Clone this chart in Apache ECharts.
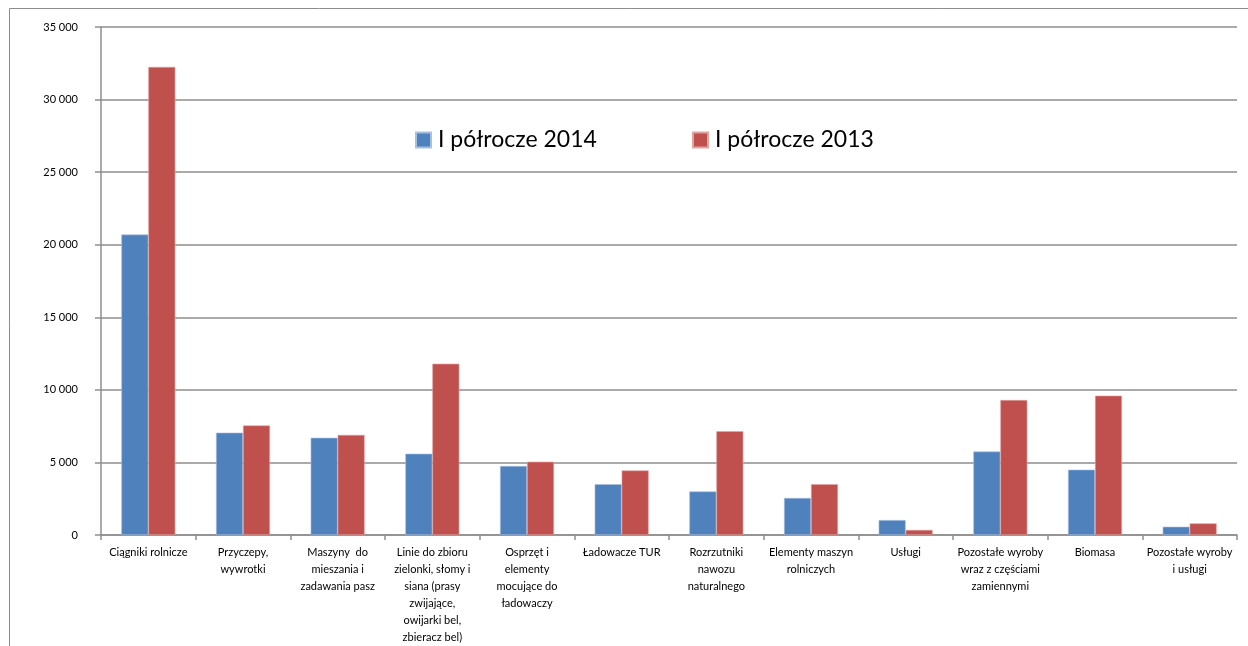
<!DOCTYPE html>
<html>
<head>
<meta charset="utf-8">
<script src="https://cdn.jsdelivr.net/npm/echarts@6/dist/echarts.min.js"></script>
<style>
  html, body { margin: 0; padding: 0; background: #fff; overflow: hidden; }
  #chartWrap { width: 1248px; height: 646px; }
</style>
</head>
<body>
<div id="chartWrap"></div>
<script>
// categories (line breaks as in the original labels)
const categories = [
  'Ciągniki rolnicze',
  'Przyczepy,\nwywrotki',
  'Maszyny  do\nmieszania i\nzadawania pasz',
  'Linie do zbioru\nzielonki, słomy i\nsiana (prasy\nzwijające,\nowijarki bel,\nzbieracz bel)',
  'Osprzęt i\nelementy\nmocujące do\nładowaczy',
  'Ładowacze TUR',
  'Rozrzutniki\nnawozu\nnaturalnego',
  'Elementy maszyn\nrolniczych',
  'Usługi',
  'Pozostałe wyroby\nwraz z częściami\nzamiennymi',
  'Biomasa',
  'Pozostałe wyroby\ni usługi'
];
const seriesNames = ['I półrocze 2014', 'I półrocze 2013'];
const h1_2014 = [20700, 7050, 6700, 5600, 4750, 3500, 3000, 2550, 1030, 5750, 4500, 570];
const h1_2013 = [32250, 7550, 6900, 11800, 5050, 4450, 7150, 3500, 350, 9300, 9600, 800];
const yTicks = { min: 0, max: 35000, interval: 5000 };

const FONT = 'Lato, "Open Sans", sans-serif';
const gridGray = '#8e8e8e';

function fmt(v) {
  return String(v).replace(/\B(?=(\d{3})+(?!\d))/g, ' ');
}

const chart = echarts.init(document.getElementById('chartWrap'), null, { renderer: 'canvas' });

const option = {
  animation: false,
  backgroundColor: '#fff',
  textStyle: { fontFamily: FONT },
  graphic: [
    {
      type: 'rect',
      silent: true,
      shape: { x: 9.5, y: 8.5, width: 1300, height: 700 },
      style: { fill: 'none', stroke: '#8c8c8c', lineWidth: 1 }
    }
  ],
  grid: { left: 101, right: 11, top: 27, bottom: 106, containLabel: false },
  legend: [
    {
      data: [seriesNames[0]],
      left: 410, top: 121,
      itemWidth: 15, itemHeight: 15,
      icon: 'rect',
      textStyle: { fontSize: 23, color: '#000', fontFamily: FONT, lineHeight: 28, padding: [0, 0, 0, 2] }
    },
    {
      data: [seriesNames[1]],
      left: 687, top: 121,
      itemWidth: 15, itemHeight: 15,
      icon: 'rect',
      textStyle: { fontSize: 23, color: '#000', fontFamily: FONT, lineHeight: 28, padding: [0, 0, 0, 2] }
    }
  ],
  xAxis: {
    type: 'category',
    data: categories,
    boundaryGap: true,
    axisLine: { lineStyle: { color: gridGray, width: 1.5 } },
    axisTick: { show: true, length: 5, alignWithLabel: false, lineStyle: { color: gridGray, width: 1.5 } },
    axisLabel: {
      interval: 0,
      margin: 9,
      fontSize: 11,
      lineHeight: 17,
      color: '#000',
      fontFamily: FONT,
      align: 'center'
    }
  },
  yAxis: {
    type: 'value',
    min: yTicks.min,
    max: yTicks.max,
    interval: yTicks.interval,
    axisLine: { show: true, lineStyle: { color: gridGray, width: 1.5 } },
    axisTick: { show: true, inside: false, length: 6, lineStyle: { color: gridGray, width: 1.5 } },
    axisLabel: {
      margin: 23,
      fontSize: 11,
      color: '#000',
      fontFamily: FONT,
      formatter: fmt
    },
    splitLine: { show: true, lineStyle: { color: gridGray, width: 1.5 } }
  },
  series: [
    {
      name: seriesNames[0],
      type: 'bar',
      data: h1_2014,
      barGap: '0%',
      barCategoryGap: '43%',
      itemStyle: { color: '#4F81BD', borderColor: '#a7bfe0', borderWidth: 0.6 }
    },
    {
      name: seriesNames[1],
      type: 'bar',
      data: h1_2013,
      barGap: '0%',
      barCategoryGap: '43%',
      itemStyle: { color: '#C0504D', borderColor: '#e0a5a3', borderWidth: 0.6 }
    }
  ]
};

chart.setOption(option);
</script>
</body>
</html>
